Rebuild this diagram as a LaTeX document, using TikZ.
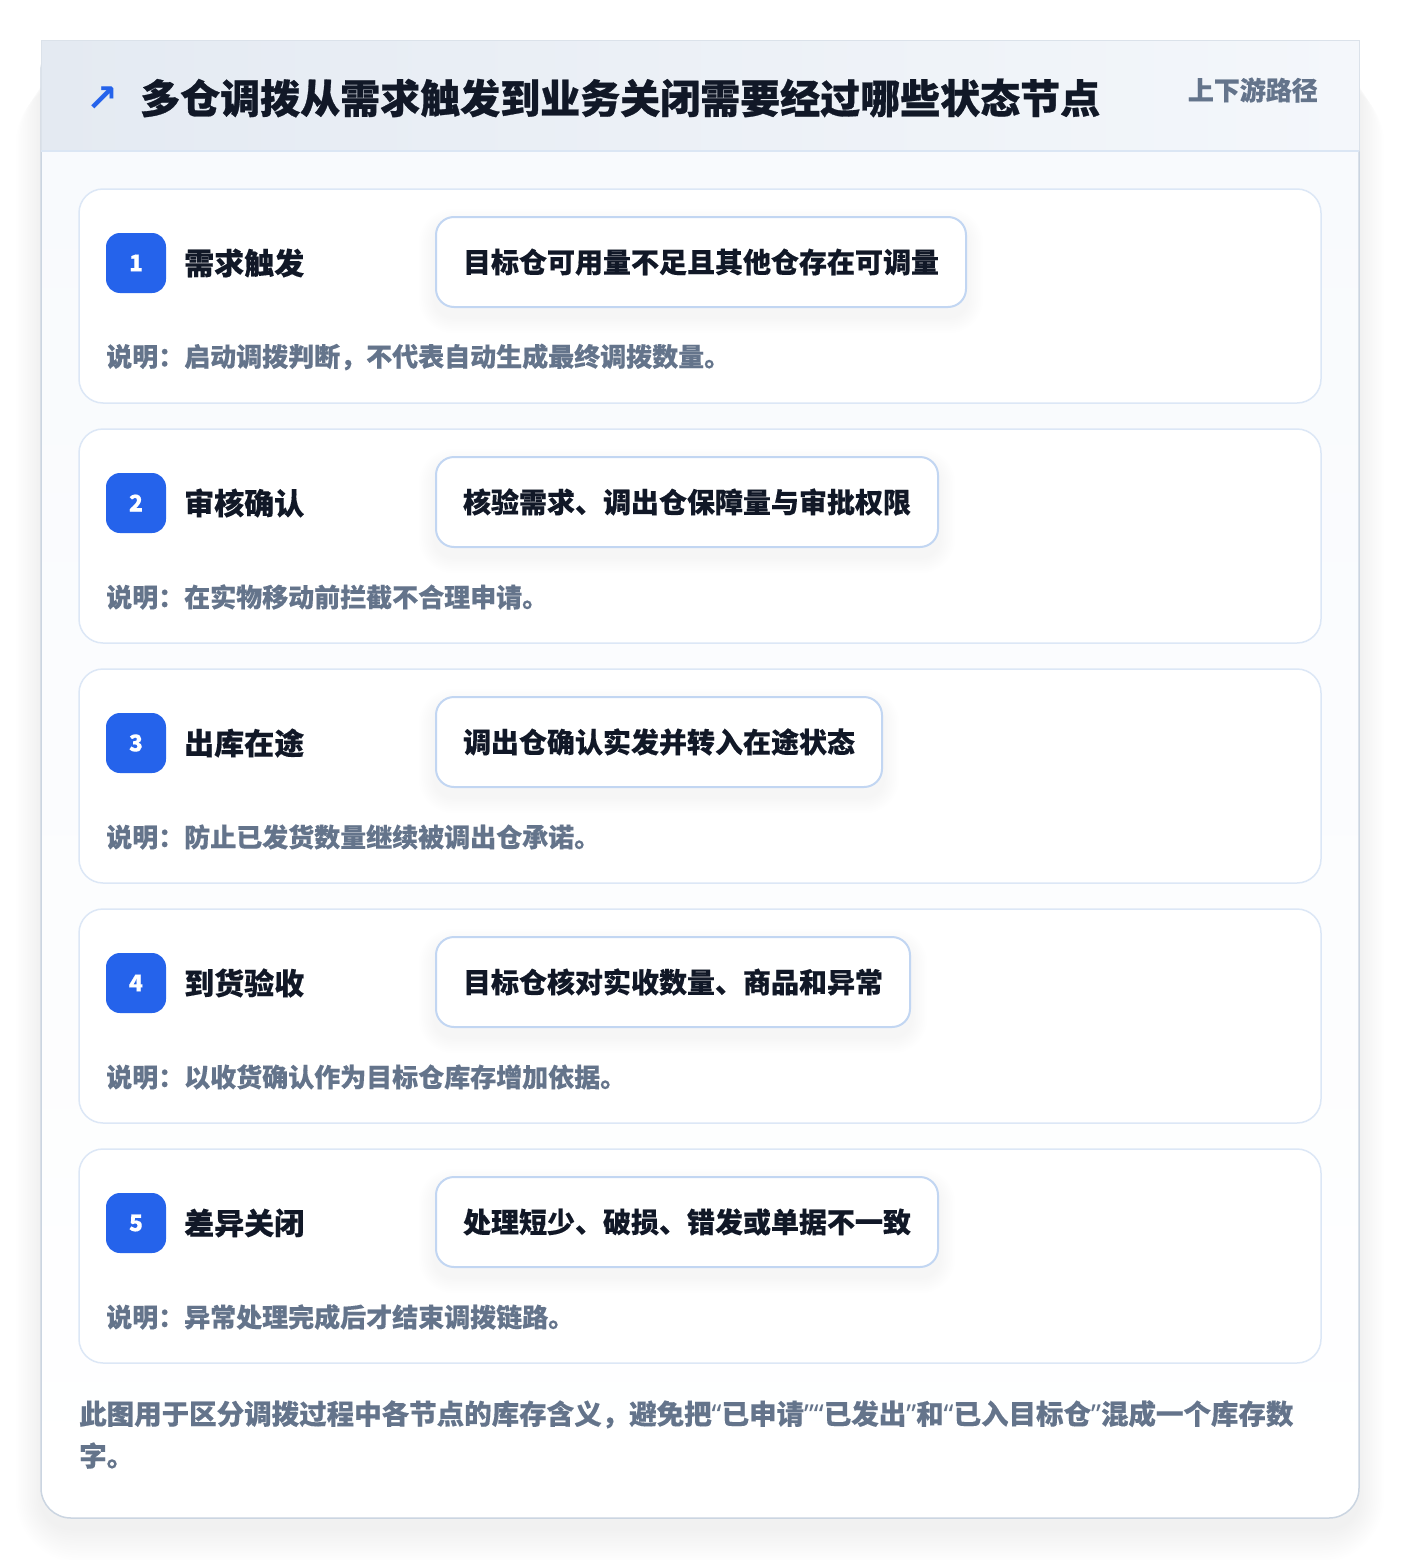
\documentclass[tikz,border=0pt]{standalone}
\usepackage{fontspec}
\setmainfont{Noto Sans CJK SC}[BoldFeatures={FakeBold=0.25}]
\newfontfamily\titlefont{Noto Sans CJK SC}[BoldFeatures={FakeBold=0.7}]
\newfontfamily\symfont{DejaVu Sans}
\newfontfamily\latinfont{Noto Sans}
\definecolor{pagebg}{HTML}{FFFFFF}
\definecolor{cardborder}{HTML}{CBD5E1}
\definecolor{bodytop}{HTML}{F8FAFD}
\definecolor{hdrL}{HTML}{E4EAF2}
\definecolor{hdrR}{HTML}{F4F7FB}
\definecolor{hdrline}{HTML}{DBE6F4}
\definecolor{accent}{HTML}{2563EB}
\definecolor{ink}{HTML}{111827}
\definecolor{muted}{HTML}{64748B}
\definecolor{stageborder}{HTML}{DCE7F6}
\definecolor{boxborder}{HTML}{C2D6F2}
\definecolor{shadowc}{HTML}{1E293B}
\newcommand{\myLQ}{{\latinfont “}}
\newcommand{\myRQ}{{\latinfont ”}}
\tikzset{
  stagecard/.style={draw=stageborder, line width=1.5pt, fill=white, rounded corners=24pt},
  badgebox/.style={fill=accent, rounded corners=14pt, minimum width=60pt, minimum height=60pt, inner sep=0pt,
    text=white, font=\fontsize{23}{26}\selectfont\bfseries},
  stagetitle/.style={anchor=west, inner sep=0pt, text=ink, font=\fontsize{30}{36}\selectfont\bfseries},
  statebox/.style={anchor=west, draw=boxborder, line width=2pt, fill=white, rounded corners=18pt,
    inner xsep=27pt, inner ysep=0pt, minimum height=90pt, text=ink, font=\fontsize{28}{34}\selectfont\bfseries},
  desctext/.style={anchor=west, inner sep=0pt, text=muted, font=\fontsize{26}{32}\selectfont\bfseries},
  softshade/.style={fill=shadowc, fill opacity=#1},
}
\begin{document}
\begin{tikzpicture}[x=1pt,y=-1pt]
\useasboundingbox (0,0) rectangle (1400,1560);
\fill[pagebg] (0,0) rectangle (1400,1560);
% outer card shadow (layered)
\foreach \k in {1,...,14}{
  \fill[softshade=0.005, rounded corners={30pt+\k*2.5pt}]
    (41-\k*1.8,41+\k*1.0+24) rectangle (1359+\k*1.8,1518+\k*2.5+10);
}
% outer card body
\begin{scope}
  \clip[rounded corners=30pt] (41,41) rectangle (1359,1518);
  \fill[top color=bodytop, bottom color=white] (41,151) rectangle (1359,1518);
\end{scope}
\draw[cardborder, line width=1.5pt, rounded corners=30pt] (41,41) rectangle (1359,1518);
% header band (square top corners)
\fill[left color=hdrL, right color=hdrR] (41,41) rectangle (1359,151);
\draw[cardborder!70, line width=1pt] (41,151) -- (41,41) -- (1359,41) -- (1359,151);
\draw[hdrline, line width=1.5pt] (41,151) -- (1359,151);
% header
\node[anchor=center, inner sep=0pt, text=accent, font=\symfont\bfseries\fontsize{38}{42}\selectfont] (arrow) at (102,99) {↗};
\node[anchor=west, inner sep=0pt, text=ink, font=\titlefont\fontsize{40}{48}\selectfont\bfseries] (title) at (140,98)
  {多仓调拨从需求触发到业务关闭需要经过哪些状态节点};
\node[anchor=east, inner sep=0pt, text=muted, font=\fontsize{26}{32}\selectfont\bfseries] (tag) at (1318,90) {上下游路径};
% stages
\foreach \i/\name/\state/\desc in {
  1/需求触发/目标仓可用量不足且其他仓存在可调量/说明：启动调拨判断，不代表自动生成最终调拨数量。,
  2/审核确认/核验需求、调出仓保障量与审批权限/说明：在实物移动前拦截不合理申请。,
  3/出库在途/调出仓确认实发并转入在途状态/说明：防止已发货数量继续被调出仓承诺。,
  4/到货验收/目标仓核对实收数量、商品和异常/说明：以收货确认作为目标仓库存增加依据。,
  5/差异关闭/处理短少、破损、错发或单据不一致/说明：异常处理完成后才结束调拨链路。}{
  \pgfmathsetmacro{\top}{189+240*(\i-1)}
  \draw[stagecard] (79,\top) rectangle (1321,\top+214);
  \node[badgebox] (badge\i) at (136,\top+74) {\i};
  \node[stagetitle] (stitle\i) at (184,\top+74) {\name};
  \node[statebox, draw=none, fill=none, text opacity=0] (ghost\i) at (435,\top+73) {\state};
  \foreach \k in {1,...,9}{
    \fill[softshade=0.005, rounded corners={18pt+\k*1.8pt}]
      ([xshift=-\k*1.8pt, yshift=\k*1.8pt-9pt]ghost\i.north west) rectangle
      ([xshift=\k*1.8pt, yshift=-\k*1.8pt-9pt]ghost\i.south east);
  }
  \node[statebox] (box\i) at (435,\top+73) {\state};
  \node[desctext] (desc\i) at (106,\top+168) {\desc};
}
% footer
\node[anchor=north west, inner sep=0pt, align=left, text=muted, font=\fontsize{27.5}{42}\selectfont\bfseries] (foot) at (79,1400)
  {此图用于区分调拨过程中各节点的库存含义，避免把\myLQ 已申请\myRQ\myLQ 已发出\myRQ 和\myLQ 已入目标仓\myRQ 混成一个库存数\\字。};
\end{tikzpicture}
\end{document}
